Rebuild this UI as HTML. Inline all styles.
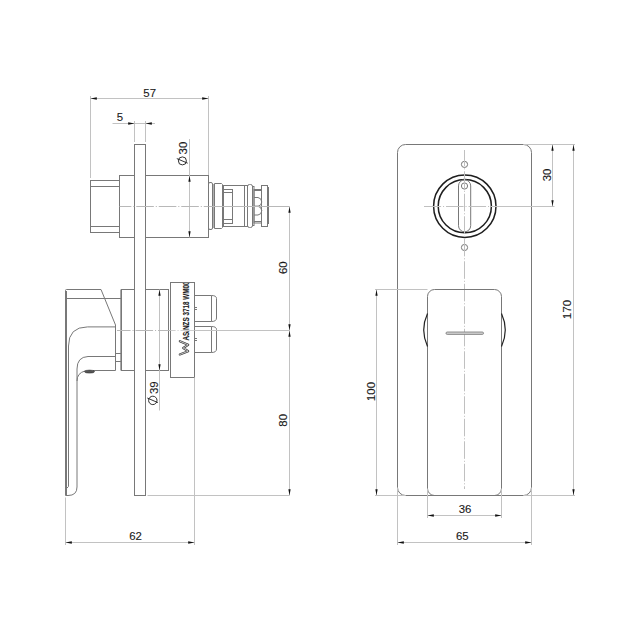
<!DOCTYPE html>
<html><head><meta charset="utf-8"><style>
html,body{margin:0;padding:0;background:#fff;width:640px;height:640px;overflow:hidden}
svg{display:block}
text{font-family:"Liberation Sans",sans-serif}
</style></head><body>
<svg width="640" height="640" viewBox="0 0 640 640">
<rect width="640" height="640" fill="#fff"/>
<line x1="90.5" y1="96" x2="90.5" y2="178" stroke="#c2c2c2" stroke-width="1" />
<line x1="208.5" y1="96" x2="208.5" y2="175" stroke="#c2c2c2" stroke-width="1" />
<line x1="90.5" y1="98.5" x2="208.5" y2="98.5" stroke="#c2c2c2" stroke-width="1" />
<polygon points="90.5,98.5 96.8,97.35 96.8,99.65" fill="#111"/>
<polygon points="208.5,98.5 202.2,97.35 202.2,99.65" fill="#111"/>
<text x="149.7" y="96.5" font-size="11.4" text-anchor="middle" fill="#1a1a1a" stroke="#1a1a1a" stroke-width="0.12" >57</text>
<line x1="134.5" y1="121" x2="134.5" y2="142" stroke="#c2c2c2" stroke-width="1" />
<line x1="145.5" y1="121" x2="145.5" y2="142" stroke="#c2c2c2" stroke-width="1" />
<line x1="112.5" y1="123.5" x2="155" y2="123.5" stroke="#c2c2c2" stroke-width="1" />
<polygon points="134.5,123.5 128.2,122.35 128.2,124.65" fill="#111"/>
<polygon points="145.5,123.5 151.8,122.35 151.8,124.65" fill="#111"/>
<text x="119.8" y="121.3" font-size="11.4" text-anchor="middle" fill="#1a1a1a" stroke="#1a1a1a" stroke-width="0.12" >5</text>
<rect x="90.5" y="180.5" width="29" height="52" rx="0" fill="none" stroke="#787878" stroke-width="1"/>
<line x1="90.5" y1="186.5" x2="119.5" y2="186.5" stroke="#787878" stroke-width="1" />
<line x1="90.5" y1="226.5" x2="119.5" y2="226.5" stroke="#787878" stroke-width="1" />
<rect x="119.5" y="175.5" width="89" height="62" rx="0" fill="none" stroke="#787878" stroke-width="1"/>
<line x1="189.5" y1="139" x2="189.5" y2="237.5" stroke="#c2c2c2" stroke-width="1" />
<polygon points="189.5,175.5 188.35,181.8 190.65,181.8" fill="#111"/>
<polygon points="189.5,237.5 188.35,231.2 190.65,231.2" fill="#111"/>
<text x="0" y="0" transform="translate(187.3,154.4) rotate(-90)" font-size="11.4" text-anchor="start" fill="#1a1a1a" stroke="#1a1a1a" stroke-width="0.12" >30</text>
<circle cx="182.4" cy="160.9" r="4" fill="none" stroke="#1a1a1a" stroke-width="0.9"/>
<line x1="176.8" y1="158.6" x2="187.7" y2="163.2" stroke="#1a1a1a" stroke-width="0.9" />
<rect x="208.5" y="182.5" width="4" height="47" rx="1.5" fill="none" stroke="#787878" stroke-width="1"/>
<line x1="213.5" y1="184" x2="213.5" y2="228" stroke="#b0b0b0" stroke-width="1" />
<path d="M214.5,183.5 H221.5 L222.5,184.5 V227.5 L221.5,228.5 H214.5 Z" fill="none" stroke="#787878" stroke-width="1"/>
<rect x="223.5" y="185.5" width="24" height="41" rx="0" fill="none" stroke="#787878" stroke-width="1"/>
<line x1="244.5" y1="185.5" x2="244.5" y2="226.5" stroke="#787878" stroke-width="1" />
<rect x="223.5" y="189.5" width="9" height="34" rx="0" fill="none" stroke="#787878" stroke-width="1"/>
<line x1="223.5" y1="192.5" x2="232.5" y2="192.5" stroke="#787878" stroke-width="1" />
<line x1="223.5" y1="219.5" x2="232.5" y2="219.5" stroke="#787878" stroke-width="1" />
<rect x="247.5" y="184.5" width="5" height="43" rx="2" fill="none" stroke="#787878" stroke-width="1"/>
<rect x="252.5" y="186.5" width="1.5" height="39" rx="0" fill="none" stroke="#787878" stroke-width="1"/>
<rect x="254" y="189.5" width="7.5" height="33.5" rx="0" fill="none" stroke="#787878" stroke-width="1"/>
<line x1="254" y1="190.5" x2="261.5" y2="190.5" stroke="#787878" stroke-width="1" />
<line x1="254" y1="221.5" x2="261.5" y2="221.5" stroke="#787878" stroke-width="1" />
<path d="M254,197.5 H258 Q261.5,198 261.8,202 Q261.5,205.5 258,206.3 H254" fill="none" stroke="#787878" stroke-width="1"/>
<path d="M254,206.3 H258 Q261.5,207 261.8,210.7 Q261.5,214.5 258,215 H254" fill="none" stroke="#787878" stroke-width="1"/>
<rect x="261.5" y="185.5" width="6" height="41" rx="0" fill="none" stroke="#787878" stroke-width="1"/>
<rect x="267.5" y="187.5" width="1" height="36" rx="0" fill="none" stroke="#787878" stroke-width="1"/>
<line x1="289.5" y1="206.5" x2="289.5" y2="495.5" stroke="#c2c2c2" stroke-width="1" />
<polygon points="289.5,206.5 288.35,212.8 290.65,212.8" fill="#111"/>
<polygon points="289.5,330.5 288.35,324.2 290.65,324.2" fill="#111"/>
<polygon points="289.5,330.5 288.35,336.8 290.65,336.8" fill="#111"/>
<polygon points="289.5,495.5 288.35,489.2 290.65,489.2" fill="#111"/>
<line x1="147.5" y1="495.5" x2="289.5" y2="495.5" stroke="#c2c2c2" stroke-width="1" />
<text x="0" y="0" transform="translate(287,267.7) rotate(-90)" font-size="11.4" text-anchor="middle" fill="#1a1a1a" stroke="#1a1a1a" stroke-width="0.12" >60</text>
<text x="0" y="0" transform="translate(287,420.3) rotate(-90)" font-size="11.4" text-anchor="middle" fill="#1a1a1a" stroke="#1a1a1a" stroke-width="0.12" >80</text>
<rect x="121.5" y="289.5" width="47" height="81" rx="0" fill="none" stroke="#787878" stroke-width="1"/>
<line x1="120.5" y1="289.5" x2="120.5" y2="370.5" stroke="#a8a8a8" stroke-width="1" />
<rect x="170.5" y="282.5" width="24" height="95" rx="0" fill="none" stroke="#787878" stroke-width="1"/>
<clipPath id="lb"><rect x="171" y="283" width="23" height="94"/></clipPath>
<g clip-path="url(#lb)">
<text x="0" y="0" transform="translate(189.2,340.5) rotate(-90)" font-size="8.7" text-anchor="start" fill="#1a1a1a" stroke="#1a1a1a" stroke-width="0.12" font-weight="bold" textLength="59" lengthAdjust="spacingAndGlyphs">AS/NZS 3718 WM00</text>
<path d="M179.8,341.2 L188.2,344.8 L183.2,348 L188.2,351.2 L179.8,354.5" fill="none" stroke="#3a3a3a" stroke-width="2.1" stroke-linejoin="round" stroke-linecap="round"/>
<path d="M179.8,341.2 L188.2,344.8 L183.2,348 L188.2,351.2 L179.8,354.5" fill="none" stroke="#fff" stroke-width="0.7" stroke-linejoin="round" stroke-linecap="round"/>
</g>
<path d="M194.5,295.5 H211.5 Q216.5,295.5 216.5,298.5 V318 Q216.5,321.5 211.5,321.5 H194.5" fill="none" stroke="#787878" stroke-width="1"/>
<line x1="211.5" y1="295.5" x2="211.5" y2="321.5" stroke="#787878" stroke-width="1" />
<path d="M194.5,326.5 H211.5 Q216.5,326.5 216.5,329.5 V349 Q216.5,352.5 211.5,352.5 H194.5" fill="none" stroke="#787878" stroke-width="1"/>
<line x1="211.5" y1="326.5" x2="211.5" y2="352.5" stroke="#787878" stroke-width="1" />
<line x1="194.5" y1="307.5" x2="197" y2="307.5" stroke="#787878" stroke-width="1" />
<line x1="194.5" y1="309.5" x2="197" y2="309.5" stroke="#787878" stroke-width="1" />
<line x1="194.5" y1="338.5" x2="197" y2="338.5" stroke="#787878" stroke-width="1" />
<line x1="194.5" y1="340.5" x2="197" y2="340.5" stroke="#787878" stroke-width="1" />
<line x1="159.5" y1="289.5" x2="159.5" y2="410.5" stroke="#c2c2c2" stroke-width="1" />
<polygon points="159.5,289.5 158.35,295.8 160.65,295.8" fill="#111"/>
<polygon points="159.5,370.5 158.35,364.2 160.65,364.2" fill="#111"/>
<text x="0" y="0" transform="translate(157.5,394) rotate(-90)" font-size="11.4" text-anchor="start" fill="#1a1a1a" stroke="#1a1a1a" stroke-width="0.12" >39</text>
<circle cx="152.8" cy="400.4" r="4.2" fill="none" stroke="#1a1a1a" stroke-width="0.9"/>
<line x1="147.3" y1="398" x2="157.8" y2="402.6" stroke="#1a1a1a" stroke-width="0.9" />
<path d="M65.5,495.5 V290.5 Q65.5,289.5 66.5,289.5 H101 L115.5,325 V370.5" fill="none" stroke="#787878" stroke-width="1"/>
<line x1="65.5" y1="298.5" x2="121.5" y2="298.5" stroke="#787878" stroke-width="1" />
<line x1="115.5" y1="353.5" x2="121.5" y2="353.5" stroke="#787878" stroke-width="1" />
<line x1="115.5" y1="361.5" x2="121.5" y2="361.5" stroke="#787878" stroke-width="1" />
<path d="M115.5,326.9 H87.5 Q68.5,327 68.5,346 V486.5" fill="none" stroke="#787878" stroke-width="1"/>
<path d="M115.5,356.5 H88 Q77,357 77,369 V487 Q77,495.5 68,495.5 H65.5" fill="none" stroke="#787878" stroke-width="1"/>
<line x1="66.5" y1="291" x2="66.5" y2="495" stroke="#787878" stroke-width="1" />
<path d="M68.5,486.5 L66.5,488.5" fill="none" stroke="#787878" stroke-width="1"/>
<path d="M115.5,370.5 H93 M85,371 Q77,373 77,381" fill="none" stroke="#787878" stroke-width="1"/>
<ellipse cx="89.5" cy="371.6" rx="5" ry="1.5" fill="#555" stroke="#333" stroke-width="0.6"/>
<rect x="134.5" y="144.5" width="11" height="351" rx="0" fill="#fff" stroke="#787878" stroke-width="1"/>
<line x1="119.5" y1="206.5" x2="208.5" y2="206.5" stroke="#b8b8b8" stroke-width="1" stroke-dasharray="17.6 1.9 1.1 1.9" stroke-dashoffset="5.75"/>
<line x1="208.5" y1="206.5" x2="289.5" y2="206.5" stroke="#b8b8b8" stroke-width="1" />
<line x1="117" y1="330.5" x2="170.5" y2="330.5" stroke="#b8b8b8" stroke-width="1" stroke-dasharray="17.6 1.9 1.1 1.9" stroke-dashoffset="4.0"/>
<line x1="170.5" y1="330.5" x2="194.5" y2="330.5" stroke="#d0d0d0" stroke-width="1" stroke-dasharray="17.6 1.9 1.1 1.9" stroke-dashoffset="12.5"/>
<line x1="194.5" y1="330.5" x2="289.5" y2="330.5" stroke="#c2c2c2" stroke-width="1" />
<line x1="65.5" y1="497.5" x2="65.5" y2="545" stroke="#c2c2c2" stroke-width="1" />
<line x1="194.5" y1="377.5" x2="194.5" y2="545" stroke="#c2c2c2" stroke-width="1" />
<line x1="65.5" y1="542.5" x2="194.5" y2="542.5" stroke="#c2c2c2" stroke-width="1" />
<polygon points="65.5,542.5 71.8,541.35 71.8,543.65" fill="#111"/>
<polygon points="194.5,542.5 188.2,541.35 188.2,543.65" fill="#111"/>
<text x="135.6" y="540.4" font-size="11.4" text-anchor="middle" fill="#1a1a1a" stroke="#1a1a1a" stroke-width="0.12" >62</text>
<rect x="397.5" y="144.5" width="134" height="351" rx="8" fill="none" stroke="#787878" stroke-width="1"/>
<circle cx="464.8" cy="206.2" r="31.2" fill="none" stroke="#1e1e1e" stroke-width="1.5"/>
<circle cx="464.8" cy="206.2" r="26.6" fill="none" stroke="#1e1e1e" stroke-width="1.5"/>
<rect x="458.5" y="179.8" width="12.2" height="52" rx="6.1" fill="none" stroke="#787878" stroke-width="1"/>
<circle cx="464.5" cy="164.4" r="3.1" fill="none" stroke="#787878" stroke-width="1"/>
<circle cx="464.5" cy="186" r="3.1" fill="none" stroke="#787878" stroke-width="1"/>
<circle cx="464.5" cy="247.5" r="3.1" fill="none" stroke="#787878" stroke-width="1"/>
<line x1="464.5" y1="150" x2="464.5" y2="489" stroke="#c0c0c0" stroke-width="1" stroke-dasharray="17.6 1.9 1.1 1.9" stroke-dashoffset="1.25"/>
<line x1="424" y1="206.5" x2="496" y2="206.5" stroke="#c0c0c0" stroke-width="1" stroke-dasharray="17.6 1.9 1.1 1.9" stroke-dashoffset="0.5"/>
<line x1="496" y1="206.5" x2="554.5" y2="206.5" stroke="#c2c2c2" stroke-width="1" />
<rect x="427.5" y="289.5" width="74" height="206" rx="7" fill="none" stroke="#787878" stroke-width="1"/>
<path d="M427.5,313.5 A39.6,39.6 0 0 0 427.5,346.5" fill="none" stroke="#222" stroke-width="1.2"/>
<path d="M501.5,313.5 A39.6,39.6 0 0 1 501.5,346.5" fill="none" stroke="#222" stroke-width="1.2"/>
<rect x="446" y="332" width="37.5" height="2.4" rx="1.2" fill="#d0d0d0" stroke="#777" stroke-width="0.8"/>
<line x1="523.5" y1="144.5" x2="575" y2="144.5" stroke="#c2c2c2" stroke-width="1" />
<line x1="552.5" y1="144.5" x2="552.5" y2="206.5" stroke="#c2c2c2" stroke-width="1" />
<polygon points="552.5,144.5 551.35,150.8 553.65,150.8" fill="#111"/>
<polygon points="552.5,206.5 551.35,200.2 553.65,200.2" fill="#111"/>
<text x="0" y="0" transform="translate(550.5,175) rotate(-90)" font-size="11.4" text-anchor="middle" fill="#1a1a1a" stroke="#1a1a1a" stroke-width="0.12" >30</text>
<line x1="573.5" y1="144.5" x2="573.5" y2="495.5" stroke="#c2c2c2" stroke-width="1" />
<polygon points="573.5,144.5 572.35,150.8 574.65,150.8" fill="#111"/>
<polygon points="573.5,495.5 572.35,489.2 574.65,489.2" fill="#111"/>
<line x1="523.5" y1="495.5" x2="575" y2="495.5" stroke="#c2c2c2" stroke-width="1" />
<text x="0" y="0" transform="translate(571,309.4) rotate(-90)" font-size="11.4" text-anchor="middle" fill="#1a1a1a" stroke="#1a1a1a" stroke-width="0.12" >170</text>
<line x1="375" y1="289.5" x2="427.5" y2="289.5" stroke="#c2c2c2" stroke-width="1" />
<line x1="376.5" y1="289.5" x2="376.5" y2="495.5" stroke="#c2c2c2" stroke-width="1" />
<polygon points="376.5,289.5 375.35,295.8 377.65,295.8" fill="#111"/>
<polygon points="376.5,495.5 375.35,489.2 377.65,489.2" fill="#111"/>
<line x1="375" y1="495.5" x2="405.5" y2="495.5" stroke="#c2c2c2" stroke-width="1" />
<text x="0" y="0" transform="translate(374.5,391.5) rotate(-90)" font-size="11.4" text-anchor="middle" fill="#1a1a1a" stroke="#1a1a1a" stroke-width="0.12" >100</text>
<line x1="427.5" y1="489" x2="427.5" y2="518" stroke="#c2c2c2" stroke-width="1" />
<line x1="501.5" y1="489" x2="501.5" y2="518" stroke="#c2c2c2" stroke-width="1" />
<line x1="427.5" y1="515.5" x2="501.5" y2="515.5" stroke="#c2c2c2" stroke-width="1" />
<polygon points="427.5,515.5 433.8,514.35 433.8,516.65" fill="#111"/>
<polygon points="501.5,515.5 495.2,514.35 495.2,516.65" fill="#111"/>
<text x="465" y="513" font-size="11.4" text-anchor="middle" fill="#1a1a1a" stroke="#1a1a1a" stroke-width="0.12" >36</text>
<line x1="397.5" y1="488" x2="397.5" y2="545" stroke="#c2c2c2" stroke-width="1" />
<line x1="531.5" y1="488" x2="531.5" y2="545" stroke="#c2c2c2" stroke-width="1" />
<line x1="397.5" y1="542.5" x2="531.5" y2="542.5" stroke="#c2c2c2" stroke-width="1" />
<polygon points="397.5,542.5 403.8,541.35 403.8,543.65" fill="#111"/>
<polygon points="531.5,542.5 525.2,541.35 525.2,543.65" fill="#111"/>
<text x="462.3" y="540" font-size="11.4" text-anchor="middle" fill="#1a1a1a" stroke="#1a1a1a" stroke-width="0.12" >65</text>
</svg>
</body></html>
